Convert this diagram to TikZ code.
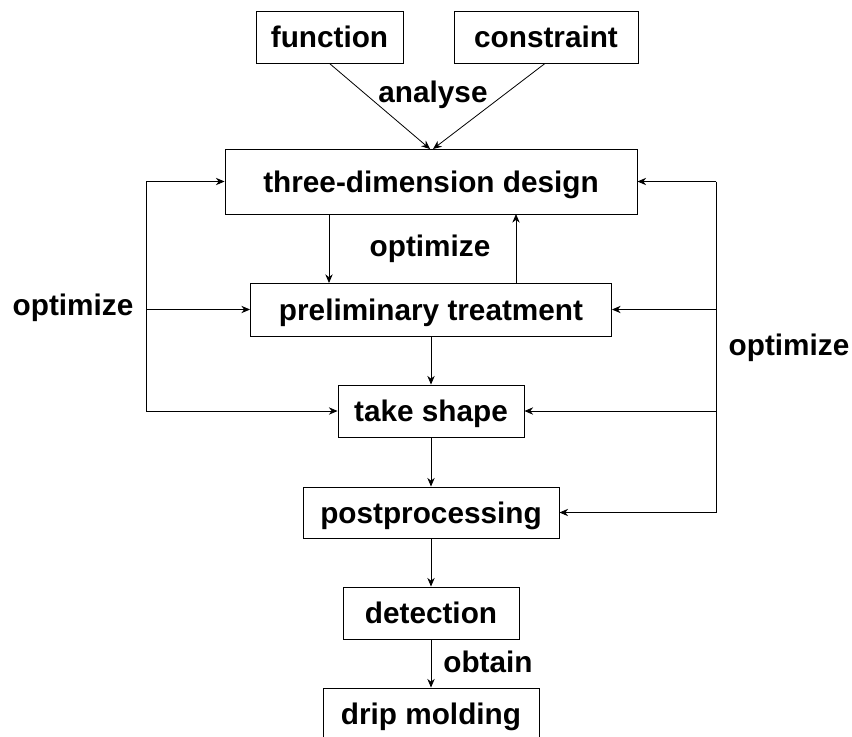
\documentclass[tikz,border=0pt]{standalone}
\usepackage{fontspec}
\setmainfont{Liberation Sans}
\usetikzlibrary{arrows.meta}
\begin{document}
\begin{tikzpicture}[x=0.75pt,y=-0.75pt,
  every node/.style={font=\fontsize{22.3}{26}\selectfont\bfseries},
  box/.style={draw,line width=0.7pt,inner sep=0pt,minimum width=#1,text depth=0pt,text height=16pt},
  flow/.style={line width=0.6pt,-{Stealth[length=6.5pt,width=5.5pt]}},
  wire/.style={line width=0.6pt}]
\useasboundingbox (0,0) rectangle (852,736);

% process boxes
\node[box=110.25pt,minimum height=39pt] (func) at (329.5,37) {function};
\node[box=138pt,minimum height=39pt] (cons) at (546,37) {constraint};
\node[box=309pt,minimum height=48.75pt] (tdd) at (431,181.5) {three-dimension design};
\node[box=270.75pt,minimum height=39.75pt] (prel) at (431,309.5) {preliminary treatment};
\node[box=139.5pt,minimum height=39pt] (take) at (431,411) {take shape};
\node[box=192pt,minimum height=38.25pt] (post) at (431,512.5) {postprocessing};
\node[box=132pt,minimum height=39pt] (det) at (431,613) {detection};
\node[box=162pt,minimum height=39pt] (drip) at (431,714) {drip molding};

% labels
\node (lanalyse) at (433,95) {analyse};
\node (lopt) at (430,249) {optimize};
\node (lleft) at (73,308) {optimize};
\node (lright) at (789,348) {optimize};
\node (lobtain) at (488,662) {obtain};

% inputs to the design
\coordinate (ta) at (430,149);
\coordinate (tb) at (433,149);
\draw[flow] (func.south) -- (ta);
\draw[flow] (cons.south) ++(-1,0) -- (tb);

% design <-> preliminary treatment
\draw[flow] (329,214) -- (329,283);
\draw[flow] (516,283) -- (516,214);

% main chain
\draw[flow] (prel.south) -- (take.north);
\draw[flow] (take.south) -- (post.north);
\draw[flow] (post.south) -- (det.north);
\draw[flow] (det.south) -- (drip.north);

% left feedback loop
\coordinate (lt) at (146,181.5);
\coordinate (lm) at (146,309.5);
\coordinate (lb) at (146,411);
\draw[wire] (lt) -- (lb);
\draw[flow] (lt) -- (tdd.west);
\draw[flow] (lm) -- (prel.west);
\draw[flow] (lb) -- (take.west);

% right feedback loop
\coordinate (rt) at (716,181.5);
\coordinate (rm) at (716,309.5);
\coordinate (rn) at (716,411);
\coordinate (rb) at (716,512.5);
\draw[wire] (rt) -- (rb);
\draw[flow] (rt) -- (tdd.east);
\draw[flow] (rm) -- (prel.east);
\draw[flow] (rn) -- (take.east);
\draw[flow] (rb) -- (post.east);
\end{tikzpicture}
\end{document}
